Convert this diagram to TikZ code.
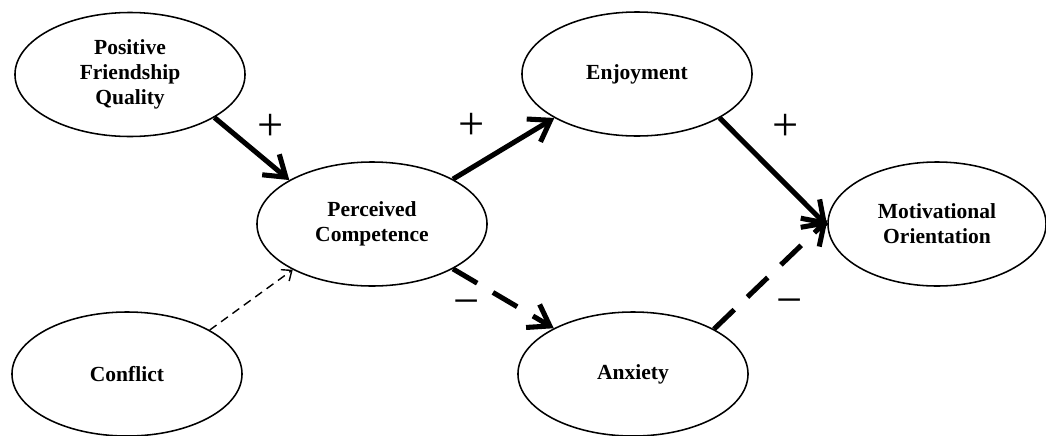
\documentclass[tikz,border=0pt]{standalone}
\usepackage{fontspec}
\setmainfont{Liberation Serif}
\usepackage{tikz}
\usetikzlibrary{shapes.geometric,arrows.meta}
\newcommand{\ew}{5.75cm}
\newcommand{\eh}{3.1cm}

\begin{document}
\begin{tikzpicture}[x=0.025cm,y=-0.025cm,
  latent/.style={ellipse,draw=black,line width=1.1pt,minimum width=\ew,minimum height=\eh,
    inner sep=0pt,align=center,font=\bfseries\fontsize{15.3}{17.8}\selectfont},
  pospath/.style={-{Straight Barb[length=14pt,width=19pt]},line width=3.6pt},
  negpath/.style={pospath,dash pattern=on 20pt off 13pt},
  weakpath/.style={-{Straight Barb[length=6pt,width=10pt]},line width=1pt,dash pattern=on 6pt off 4pt},
  sign/.style={font=\fontsize{33}{33}\selectfont,inner sep=0pt}]
\useasboundingbox (0,0) rectangle (1046,435);
\coordinate (cpfq) at (130,74.5);
\coordinate (ccon) at (127,374);
\coordinate (cpc) at (372,224);
\coordinate (cenj) at (637,74);
\coordinate (canx) at (633,374);
\coordinate (cmo) at (937,224);
\node[latent] (pfq) at (cpfq) {Positive\\Friendship\\Quality};
\node[latent] (con) at (ccon) {Conflict};
\node[latent] (pc) at (cpc) {Perceived\\Competence};
\node[latent] (enj) at (cenj) {Enjoyment};
\node[latent] (anx) at (canx) {Anxiety};
\node[latent,minimum width=5.45cm] (mo) at (cmo) {Motivational\\Orientation};
\draw[pospath] (pfq.-27) -- (pc.152);
\draw[pospath] (pc.29) -- (enj.208);
\draw[pospath] (enj.-28) -- (mo.181);
\draw[weakpath] (con.28) -- (pc.210);
\draw[negpath] (pc.-29) -- (anx.150);
\draw[negpath] (anx.29) -- (mo.178);
\foreach \n/\x/\y/\s in {sa/271/127/+,sb/472/126/+,sc/786/127/+,sd/467/308/−,se/790/307/−}{
\node[sign] (\n) at (\x,\y) {\s};
}
\end{tikzpicture}
\end{document}
